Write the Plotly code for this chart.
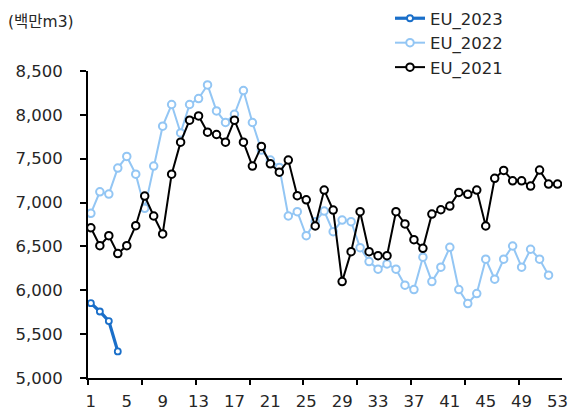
import plotly.graph_objects as go

weeks_2023 = [1, 2, 3, 4]
eu_2023 = [5853, 5758, 5649, 5303]

weeks_2022 = list(range(1, 53))
eu_2022 = [6877, 7123, 7097, 7393, 7526, 7324, 6934, 7416, 7871, 8118,
           7794, 8118, 8186, 8341, 8045, 7913, 8007, 8277, 7913, 7598,
           7484, 7401, 6847, 6896, 6622, 6782, 6903, 6668, 6801, 6782,
           6486, 6327, 6240, 6300, 6240, 6058, 6008, 6377, 6099, 6263,
           6490, 6008, 5849, 5963, 6354, 6126, 6354, 6505, 6263, 6468,
           6354, 6172]

weeks_2021 = list(range(1, 54))
eu_2021 = [6713, 6509, 6622, 6418, 6509, 6736, 7074, 6847, 6642, 7324,
           7689, 7939, 7988, 7802, 7776, 7689, 7939, 7689, 7416, 7640,
           7442, 7347, 7484, 7078, 7031, 6733, 7142, 6915, 6099, 6440,
           6896, 6440, 6395, 6395, 6896, 6756, 6577, 6479, 6869, 6918,
           6960, 7116, 7094, 7142, 6733, 7276, 7367, 7248, 7248, 7188,
           7370, 7211, 7211]

label_weeks = list(range(1, 54, 4))
tick_positions = [0.68 + 6 * k for k in range(9)]
y_ticks = [5000, 5500, 6000, 6500, 7000, 7500, 8000, 8500]

FONT = "DejaVu Sans, Noto Sans CJK KR"
TXT = "#262626"
FS = 16.5

C23 = "#1a6fc9"
C22 = "#93c6f4"
C21 = "#000000"

fig = go.Figure()
fig.add_trace(go.Scatter(
    x=weeks_2023, y=eu_2023, name="EU_2023", mode="lines+markers",
    line=dict(color=C23, width=3.2),
    marker=dict(symbol="circle", size=6, color="white",
                line=dict(color=C23, width=1.8))))
fig.add_trace(go.Scatter(
    x=weeks_2022, y=eu_2022, name="EU_2022", mode="lines+markers",
    line=dict(color=C22, width=2),
    marker=dict(symbol="circle", size=7.5, color="white",
                line=dict(color=C22, width=2))))
fig.add_trace(go.Scatter(
    x=weeks_2021, y=eu_2021, name="EU_2021", mode="lines+markers",
    xaxis="x2",
    line=dict(color=C21, width=2),
    marker=dict(symbol="circle", size=7.5, color="white",
                line=dict(color=C21, width=2))))

W, H = 569, 409
L, R, T, B = 88, 7, 71, 31
PW, PH = W - L - R, H - T - B

xr = [0.68, 53.5]
fig.update_layout(
    width=W, height=H,
    margin=dict(l=L, r=R, t=T, b=B, autoexpand=False),
    paper_bgcolor="white", plot_bgcolor="white",
    font=dict(family=FONT, size=FS, color=TXT),
    showlegend=True,
    legend=dict(xref="container", yref="container",
                x=390 / W, y=1 - 1 / H,
                xanchor="left", yanchor="top",
                bgcolor="rgba(0,0,0,0)", font=dict(size=FS, color=TXT),
                tracegroupgap=0),
    xaxis=dict(range=xr, tickvals=tick_positions,
               ticktext=[""] * len(tick_positions),
               ticks="outside", ticklen=5, tickwidth=1.5, tickcolor="black",
               showline=True, linecolor="black", linewidth=2,
               showgrid=False, zeroline=False, automargin=False),
    xaxis2=dict(range=xr, overlaying="x", anchor="y", side="bottom",
                tickvals=label_weeks, ticktext=[str(w) for w in label_weeks],
                ticks="", showline=False, showgrid=False, zeroline=False,
                tickfont=dict(size=FS, color=TXT), ticklabelstandoff=11,
                automargin=False),
    yaxis=dict(range=[5000, 8500], tickvals=y_ticks,
               ticktext=[f"{v:,}" for v in y_ticks],
               ticks="outside", ticklen=6, tickwidth=1.5, tickcolor="black",
               showline=True, linecolor="black", linewidth=2,
               showgrid=False, zeroline=False, ticklabelstandoff=14,
               automargin=False),
    annotations=[dict(text="(백만m3)", xref="paper", yref="paper",
                      x=(6 - L) / PW, y=1 + (T - 22) / PH,
                      xanchor="left", yanchor="middle",
                      showarrow=False, font=dict(size=15.5, color=TXT))],
)

fig.write_html("out.html",
               config={"displayModeBar": False},
               post_script="document.body.style.margin='0';"
                           "document.body.style.overflow='hidden';")
